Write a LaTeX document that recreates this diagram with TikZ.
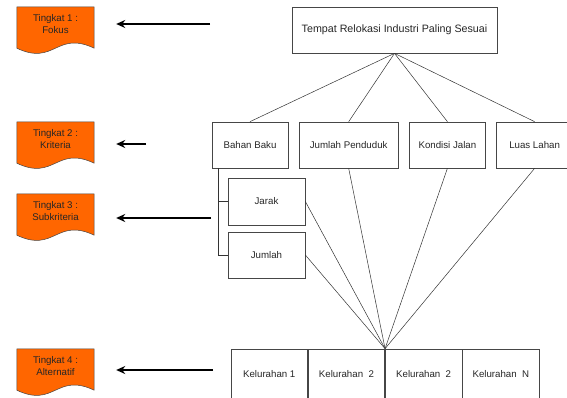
\documentclass[tikz,border=0pt]{standalone}
\usepackage{fontspec}
\setmainfont{Liberation Sans}
\usetikzlibrary{arrows.meta,backgrounds,positioning}

\definecolor{levelorange}{RGB}{255,102,0}
\definecolor{boxgray}{RGB}{70,70,70}

\begin{document}
\begin{tikzpicture}[x=1pt,y=-1pt,
    >={Stealth[length=9pt,width=8pt]},
    every node/.style={font=\fontsize{9.7}{12.5}\selectfont,text=black!85},
    box/.style={draw=boxgray,line width=0.7pt,minimum height=46pt,inner sep=0pt},
    level/.style={minimum width=77pt,minimum height=34pt,inner sep=0pt,align=center},
    link/.style={draw=black!80,line width=0.5pt},
    pointer/.style={->,line width=2pt,shorten >=22pt}]
    \useasboundingbox (0,0) rectangle (567,398);

    % goal
    \node[box,minimum width=205pt,font=\fontsize{10.7}{13}\selectfont] (goal) at (394.5,30)
    {Tempat Relokasi Industri Paling Sesuai};

    % kriteria
    \node[box,minimum width=76pt] (bahan) at (250,145) {Bahan Baku};
    \node[box,minimum width=99pt,right=10.5pt of bahan] (penduduk) {Jumlah Penduduk};
    \node[box,minimum width=76pt,right=10.5pt of penduduk] (jalan) {Kondisi Jalan};
    \node[box,minimum width=76pt,right=10.5pt of jalan] (lahan) {Luas Lahan};

    % subkriteria
    \node[box,minimum width=77pt,minimum height=47pt] (jarak) at (266.5,201.5) {Jarak};
    \node[box,minimum width=77pt] (jumlah) at (266.5,255) {Jumlah};

    % alternatif
    \node[box,minimum width=76.5pt,minimum height=50pt] (kel1) at (269.25,374) {Kelurahan 1};
    \node[box,minimum width=76.5pt,minimum height=50pt,right=0pt of kel1] (kel2) {Kelurahan\ \ 2};
    \node[box,minimum width=76.5pt,minimum height=50pt,right=0pt of kel2] (kel3) {Kelurahan\ \ 2};
    \node[box,minimum width=76.5pt,minimum height=50pt,right=0pt of kel3] (kel4) {Kelurahan\ \ N};

    \foreach \n in {bahan,penduduk,jalan,lahan}
    \draw[link] (goal.south) -- (\n.north);

    \coordinate (hub) at (kel2.north east);
    \foreach \n in {penduduk,jalan,lahan}
    \draw[link] (\n.south) -- (hub);
    \foreach \n in {jarak,jumlah}
    \draw[link] (\n.east) -- (hub);

    \coordinate (tap) at ([xshift=7pt]bahan.south west);
    \draw[link,line width=0.7pt] (tap) |- (jarak.west);
    \draw[link,line width=0.7pt] (tap) |- (jumlah.west);

    % tingkat
    \node[level] (fokus) at (55.5,24) {Tingkat 1 :\\Fokus};
    \node[level] (kriteria) at (55.5,139) {Tingkat 2 :\\Kriteria};
    \node[level] (subkriteria) at (55.5,211) {Tingkat 3 :\\Subkriteria};
    \node[level] (alternatif) at (55.5,366) {Tingkat 4 :\\Alternatif};

    \begin{scope}[on background layer]
        \foreach \n in {fokus,kriteria,subkriteria,alternatif}
        \draw[draw=boxgray,fill=levelorange,line width=0.5pt]
        (\n.north west) -- (\n.north east) -- ([yshift=-7pt]\n.south east)
        .. controls +(-38,-18) and +(38,18) .. ([yshift=-7pt]\n.south west) -- cycle;
    \end{scope}

    \coordinate (p1) at (210,24);
    \coordinate (p2) at (146,144);
    \coordinate (p3) at (211,218);
    \coordinate (p4) at (213,370);
    \draw[pointer] (p1) -- (p1 -| fokus.east);
    \draw[pointer] (p2) -- (p2 -| kriteria.east);
    \draw[pointer] (p3) -- (p3 -| subkriteria.east);
    \draw[pointer] (p4) -- (p4 -| alternatif.east);
\end{tikzpicture}
\end{document}
